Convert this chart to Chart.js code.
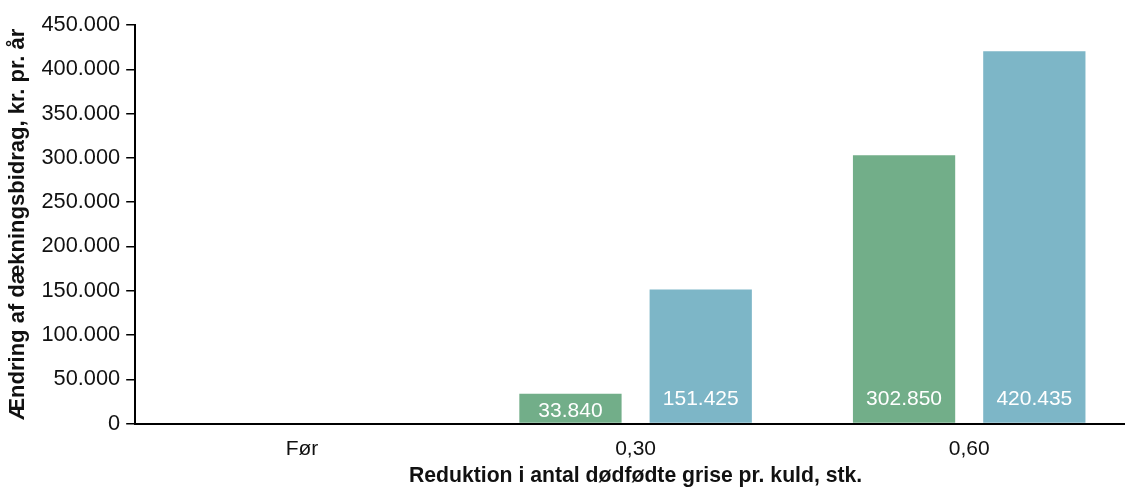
<!DOCTYPE html>
<html lang="da">
<head>
<meta charset="utf-8">
<title>Ændring af dækningsbidrag</title>
<script src="https://cdn.jsdelivr.net/npm/chart.js@4.4.1/dist/chart.umd.min.js"></script>
<style>
  html, body { margin: 0; padding: 0; background: #ffffff; overflow: hidden; }
  #wrap { position: relative; width: 1136px; height: 490px; }
</style>
</head>
<body>
<div id="wrap"><canvas id="chart"></canvas></div>
<script>
// Categories: reduction in stillborn piglets per litter
const categories = ['Før', '0,30', '0,60'];
// Change in contribution margin, DKK per year
const seriesGreen = [0, 33840, 302850];
const seriesBlue = [0, 151425, 420435];
// Value axis ticks
const yTicks = [0, 50000, 100000, 150000, 200000, 250000, 300000, 350000, 400000, 450000];

const xTitle = 'Reduktion i antal dødfødte grise pr. kuld, stk.';
const yTitle = 'Ændring af dækningsbidrag, kr. pr. år';

const FONT = '"Liberation Sans", Arial, Helvetica, sans-serif';
const INK = '#111111';

// Danish number format: thousands separated by "."
function fmt(v) {
  return String(Math.round(v)).replace(/\B(?=(\d{3})+(?!\d))/g, '.');
}

// White value labels drawn inside the base of each bar
const barValueLabels = {
  id: 'barValueLabels',
  afterDatasetsDraw(chart) {
    const ctx = chart.ctx;
    ctx.save();
    ctx.font = '21px ' + FONT;
    ctx.fillStyle = '#ffffff';
    ctx.textAlign = 'center';
    ctx.textBaseline = 'middle';
    chart.data.datasets.forEach((ds, di) => {
      const meta = chart.getDatasetMeta(di);
      meta.data.forEach((bar, i) => {
        const v = ds.data[i];
        if (!v) return;
        const base = bar.base;
        const y = Math.max(base - 24, (bar.y + base) / 2 + 2.5);
        ctx.fillText(fmt(v), bar.x, y);
      });
    });
    ctx.restore();
  }
};

new Chart(document.getElementById('chart'), {
  type: 'bar',
  data: {
    labels: categories,
    datasets: [
      { label: 'Serie 1', data: seriesGreen, backgroundColor: '#72ae89', borderWidth: 0 },
      { label: 'Serie 2', data: seriesBlue, backgroundColor: '#7db6c7', borderWidth: 0 }
    ]
  },
  options: {
    responsive: true,
    maintainAspectRatio: false,
    animation: false,
    events: [],
    categoryPercentage: 0.781,
    barPercentage: 0.785,
    layout: { padding: { top: 25, left: 4, right: 0, bottom: 0 } },
    plugins: { legend: { display: false }, tooltip: { enabled: false } },
    scales: {
      x: {
        offset: true,
        grid: { display: false, drawTicks: false, drawOnChartArea: false },
        border: { display: true, color: '#000000', width: 2, z: 1 },
        ticks: { color: INK, font: { family: FONT, size: 21 }, padding: 13, maxRotation: 0 },
        title: {
          display: true,
          text: xTitle,
          color: INK,
          font: { family: FONT, size: 21.2, weight: 'bold', lineHeight: 1.0 },
          padding: { top: -9, bottom: 3 }
        }
      },
      y: {
        min: 0,
        max: 450000,
        afterBuildTicks(scale) { scale.ticks = yTicks.map(v => ({ value: v })); },
        grid: { display: true, drawOnChartArea: false, drawTicks: true, tickLength: 9, color: '#000000', lineWidth: 1.5 },
        border: { display: true, color: '#000000', width: 2, z: 1 },
        ticks: { color: INK, font: { family: FONT, size: 21.8 }, padding: 6, callback: v => fmt(v) },
        title: {
          display: true,
          text: yTitle,
          color: INK,
          font: { family: FONT, size: 22, weight: 'bold' },
          padding: { top: 1, bottom: 4 }
        }
      }
    }
  },
  plugins: [barValueLabels]
});
</script>
</body>
</html>
